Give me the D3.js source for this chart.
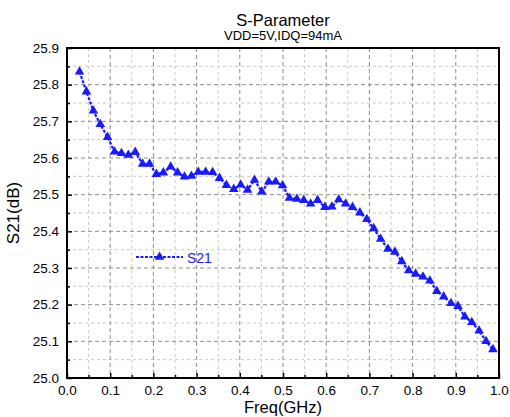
<!DOCTYPE html>
<html>
<head>
<meta charset="utf-8">
<script src="https://cdn.jsdelivr.net/npm/d3@7/dist/d3.min.js"></script>
<style>
  body { margin: 0; background: #fff; }
  svg text { font-family: "Liberation Sans", Arial, sans-serif; }
</style>
</head>
<body>
<div id="chart"></div>
<script>
// frequency points (GHz)
const freq = [0.029, 0.045, 0.061, 0.077, 0.094, 0.110, 0.126, 0.142, 0.158, 0.175,
              0.191, 0.207, 0.223, 0.240, 0.256, 0.272, 0.288, 0.304, 0.321, 0.337,
              0.353, 0.369, 0.386, 0.402, 0.418, 0.434, 0.451, 0.467, 0.483, 0.499,
              0.515, 0.532, 0.548, 0.564, 0.580, 0.597, 0.613, 0.629, 0.645, 0.661,
              0.678, 0.694, 0.710, 0.726, 0.743, 0.759, 0.775, 0.791, 0.807, 0.824,
              0.840, 0.856, 0.872, 0.889, 0.905, 0.921, 0.937, 0.954, 0.970, 0.986];
// S21 gain (dB)
const s21 = [25.835, 25.781, 25.729, 25.692, 25.657, 25.617, 25.613, 25.608, 25.616, 25.584,
             25.584, 25.556, 25.560, 25.576, 25.560, 25.549, 25.551, 25.562, 25.562, 25.561,
             25.545, 25.526, 25.515, 25.527, 25.513, 25.540, 25.508, 25.535, 25.535, 25.525,
             25.491, 25.488, 25.485, 25.475, 25.485, 25.466, 25.467, 25.487, 25.475, 25.466,
             25.451, 25.433, 25.408, 25.379, 25.352, 25.344, 25.318, 25.293, 25.284, 25.276,
             25.265, 25.237, 25.222, 25.204, 25.196, 25.167, 25.152, 25.129, 25.100, 25.078];

const xTicks = [0.0, 0.1, 0.2, 0.3, 0.4, 0.5, 0.6, 0.7, 0.8, 0.9, 1.0];
const yTicks = [25.0, 25.1, 25.2, 25.3, 25.4, 25.5, 25.6, 25.7, 25.8, 25.9];
const xMinor = [0.05, 0.15, 0.25, 0.35, 0.45, 0.55, 0.65, 0.75, 0.85, 0.95];
const yMinor = [25.05, 25.15, 25.25, 25.35, 25.45, 25.55, 25.65, 25.75, 25.85];

const width = 510, height = 417;
const margin = {top: 48, right: 11, bottom: 39, left: 67};
const blue = "#1a1aff";

const svg = d3.select("#chart").append("svg")
    .attr("width", width)
    .attr("height", height);

const x = d3.scaleLinear().domain([0, 1]).range([margin.left, width - margin.right]);
const y = d3.scaleLinear().domain([25.0, 25.9]).range([height - margin.bottom, margin.top]);

// grid lines: minor light, major darker
const grid = svg.append("g");
grid.selectAll(".vmin").data(xMinor).enter().append("line")
    .attr("x1", d => x(d)).attr("x2", d => x(d))
    .attr("y1", y(25.9)).attr("y2", y(25.0))
    .attr("stroke", "#c8c8c8").attr("stroke-dasharray", "3,3");
grid.selectAll(".hmin").data(yMinor).enter().append("line")
    .attr("y1", d => y(d)).attr("y2", d => y(d))
    .attr("x1", x(0)).attr("x2", x(1))
    .attr("stroke", "#c8c8c8").attr("stroke-dasharray", "3,3");
grid.selectAll(".vmaj").data(xTicks.slice(1, -1)).enter().append("line")
    .attr("x1", d => x(d)).attr("x2", d => x(d))
    .attr("y1", y(25.9)).attr("y2", y(25.0))
    .attr("stroke", "#8c8c8c").attr("stroke-dasharray", "4,3");
grid.selectAll(".hmaj").data(yTicks.slice(1, -1)).enter().append("line")
    .attr("y1", d => y(d)).attr("y2", d => y(d))
    .attr("x1", x(0)).attr("x2", x(1))
    .attr("stroke", "#8c8c8c").attr("stroke-dasharray", "4,3");

// axes, ticks pointing inward
svg.append("g")
    .attr("transform", `translate(0,${y(25.0)})`)
    .call(d3.axisBottom(x).tickValues(xTicks).tickSize(-5).tickPadding(7).tickFormat(d3.format(".1f")));
svg.append("g")
    .attr("transform", `translate(0,${y(25.0)})`)
    .call(d3.axisBottom(x).tickValues(xMinor).tickSize(-3).tickFormat(""))
    .call(g => g.select(".domain").remove());
svg.append("g")
    .attr("transform", `translate(${x(0)},0)`)
    .call(d3.axisLeft(y).tickValues(yTicks).tickSize(-5).tickPadding(8).tickFormat(d3.format(".1f")));
svg.append("g")
    .attr("transform", `translate(${x(0)},0)`)
    .call(d3.axisLeft(y).tickValues(yMinor).tickSize(-3).tickFormat(""))
    .call(g => g.select(".domain").remove());

svg.selectAll(".tick line").attr("stroke", "#000").attr("stroke-width", 1.5);
svg.selectAll(".tick text").attr("font-size", 13.5).attr("fill", "#000");
svg.selectAll(".domain").remove();

// frame
svg.append("rect")
    .attr("x", x(0)).attr("y", y(25.9))
    .attr("width", x(1) - x(0)).attr("height", y(25.0) - y(25.9))
    .attr("fill", "none").attr("stroke", "#000").attr("stroke-width", 2);

// series line and markers
const pts = freq.map((f, i) => [f, s21[i]]);
svg.append("path")
    .datum(pts)
    .attr("fill", "none")
    .attr("stroke", blue)
    .attr("stroke-width", 2.2)
    .attr("stroke-dasharray", "3,1.5")
    .attr("d", d3.line().x(d => x(d[0])).y(d => y(d[1])));

const tri = d3.symbol().type(d3.symbolTriangle).size(40);
svg.selectAll(".mark").data(pts).enter().append("path")
    .attr("transform", d => `translate(${x(d[0])},${y(d[1])})`)
    .attr("d", tri)
    .attr("fill", blue);

// legend
const lg = svg.append("g").attr("transform", "translate(136,257)");
lg.append("line").attr("x1", 0).attr("x2", 47).attr("y1", 0).attr("y2", 0)
    .attr("stroke", blue).attr("stroke-width", 2.2).attr("stroke-dasharray", "3,1.5");
lg.append("path").attr("transform", "translate(23.5,0)").attr("d", tri).attr("fill", blue);
lg.append("text").attr("x", 51).attr("y", 6).attr("font-size", 14).attr("fill", blue).text("S21");

// titles
const cx = (x(0) + x(1)) / 2;
svg.append("text").attr("x", cx).attr("y", 26).attr("text-anchor", "middle")
    .attr("font-size", 16.5).text("S-Parameter");
svg.append("text").attr("x", cx).attr("y", 40).attr("text-anchor", "middle")
    .attr("font-size", 13).text("VDD=5V,IDQ=94mA");
svg.append("text").attr("x", cx).attr("y", 413).attr("text-anchor", "middle")
    .attr("font-size", 16.5).text("Freq(GHz)");
svg.append("text")
    .attr("transform", `translate(19,${(y(25.0) + y(25.9)) / 2}) rotate(-90)`)
    .attr("text-anchor", "middle")
    .attr("font-size", 17).text("S21(dB)");
</script>
</body>
</html>
